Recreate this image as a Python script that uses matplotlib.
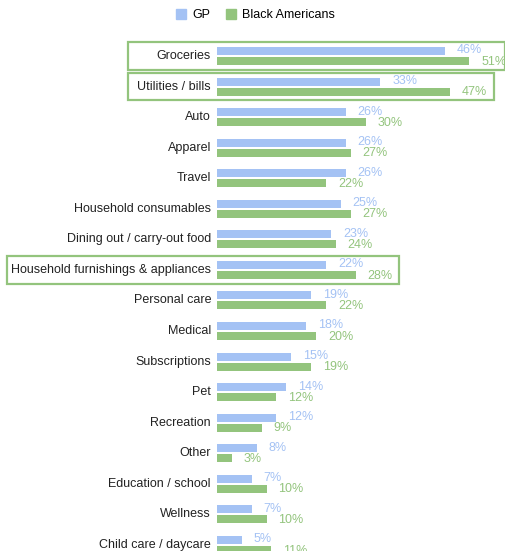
import matplotlib
matplotlib.use('Agg')
import matplotlib.pyplot as plt
from matplotlib.patches import Rectangle
from matplotlib.transforms import blended_transform_factory, offset_copy

categories = [
    'Groceries', 'Utilities / bills', 'Auto', 'Apparel', 'Travel',
    'Household consumables', 'Dining out / carry-out food',
    'Household furnishings & appliances', 'Personal care', 'Medical',
    'Subscriptions', 'Pet', 'Recreation', 'Other', 'Education / school',
    'Wellness', 'Child care / daycare',
]
gp_values = [46, 33, 26, 26, 26, 25, 23, 22, 19, 18, 15, 14, 12, 8, 7, 7, 5]
black_values = [51, 47, 30, 27, 22, 27, 24, 28, 22, 20, 19, 12, 9, 3, 10, 10, 11]
highlighted = ['Groceries', 'Utilities / bills', 'Household furnishings & appliances']

BLUE = '#a4c2f4'
GREEN = '#93c47d'

plt.rcParams['font.family'] = ['Liberation Sans', 'DejaVu Sans']

W, H = 506, 551
fig = plt.figure(figsize=(W / 100, H / 100), dpi=100)

# axes starts where the bars begin, spans full height
left_px = 217
ax = fig.add_axes([left_px / W, 0, 1 - left_px / W, 1])
px_per_pct = 4.95
ax.set_xlim(0, (W - left_px) / px_per_pct)
pitch = 30.56
top_center = 56
ax.set_ylim((H - top_center) / pitch, -top_center / pitch)
ax.axis('off')

rows = list(range(len(categories)))
bar_h = 8 / pitch
off = 5 / pitch
gp_y = [r - off for r in rows]
bl_y = [r + off for r in rows]
ax.barh(gp_y, gp_values, height=bar_h, color=BLUE)
ax.barh(bl_y, black_values, height=bar_h, color=GREEN)

label_tr = offset_copy(ax.transData, fig=fig, x=12, y=0, units='dots')
for y, v in zip(gp_y, gp_values):
    ax.text(v, y - 0.02, f'{v}%', transform=label_tr, color=BLUE,
            fontsize=9, va='center', ha='left', clip_on=False)
for y, v in zip(bl_y, black_values):
    ax.text(v, y + 0.02, f'{v}%', transform=label_tr, color=GREEN,
            fontsize=9, va='center', ha='left', clip_on=False)

# category names, right aligned just left of the bars
name_tr = offset_copy(ax.transData, fig=fig, x=-6, y=0, units='dots')
for r, name in zip(rows, categories):
    ax.text(0, r, name, transform=name_tr, fontsize=9, color='#222222',
            ha='right', va='center', clip_on=False)

# green outline around the highlighted rows
box_tr = blended_transform_factory(fig.transFigure, ax.transData)
box_spans = {
    'Groceries': (128, 505),
    'Utilities / bills': (128, 494),
    'Household furnishings & appliances': (7, 399),
}
for name in highlighted:
    r = categories.index(name)
    x0, x1 = box_spans[name]
    ax.add_patch(Rectangle((x0 / W, r - 0.45), (x1 - x0) / W, 0.9,
                           transform=box_tr, fill=False, edgecolor=GREEN,
                           linewidth=1.6, clip_on=False))

handles = [Rectangle((0, 0), 1, 1, color=BLUE), Rectangle((0, 0), 1, 1, color=GREEN)]
fig.legend(handles, ['GP', 'Black Americans'], loc='center',
           bbox_to_anchor=(0.505, 1 - 15 / H), ncol=2, frameon=False,
           fontsize=9, handlelength=0.8, handleheight=0.8,
           handletextpad=0.5, columnspacing=1.2)

fig.savefig('out.png', dpi=100)
